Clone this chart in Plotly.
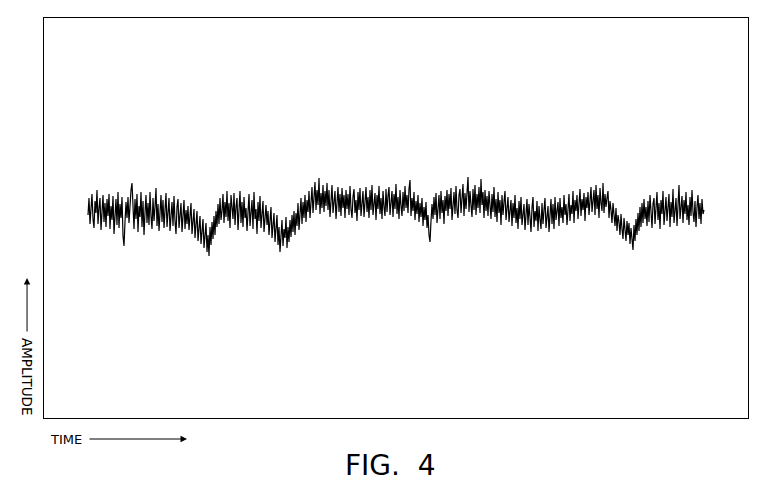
import plotly.graph_objects as go

# Amplitude samples (one sample per pixel column of the original drawing)
amplitude = [
    203, 220, 194, 213, 224, 199, 190, 217, 205, 228, 194, 210, 220, 188, 203, 223, 196, 215, 191, 219,
    202, 224, 189, 212, 198, 222, 184, 209, 219, 193, 226, 190, 214, 200, 221, 182, 172, 196, 216, 200,
    221, 195, 213, 228, 235, 206, 189, 219, 199, 224, 186, 212, 201, 226, 191, 217, 183, 205, 223, 195,
    215, 193, 226, 202, 189, 220, 197, 211, 230, 192, 214, 187, 206, 223, 196, 218, 190, 211, 225, 191,
    208, 220, 187, 203, 216, 192, 222, 197, 184, 211, 219, 190, 205, 215, 186, 201, 218, 189, 208, 194,
    212, 188, 202, 215, 184, 199, 209, 180, 195, 207, 177, 193, 202, 174, 189, 199, 170, 186, 195, 166,
    183, 162, 191, 173, 196, 179, 202, 183, 207, 191, 214, 194, 220, 198, 207, 224, 195, 216, 201, 227,
    197, 215, 190, 223, 205, 199, 225, 193, 211, 220, 188, 207, 227, 195, 216, 191, 221, 200, 210, 187,
    213, 224, 192, 205, 218, 189, 226, 199, 209, 184, 216, 197, 222, 190, 206, 217, 186, 202, 213, 193,
    207, 183, 199, 211, 180, 196, 205, 176, 193, 203, 173, 191, 166, 186, 198, 172, 189, 180, 201, 170,
    191, 176, 198, 181, 203, 186, 207, 183, 205, 192, 215, 188, 210, 220, 194, 216, 200, 223, 196, 218,
    206, 227, 200, 219, 231, 205, 222, 236, 208, 228, 213, 240, 204, 225, 210, 233, 206, 227, 212, 235,
    208, 228, 201, 222, 233, 205, 214, 227, 199, 221, 231, 206, 224, 202, 230, 210, 223, 200, 228, 209,
    224, 203, 232, 209, 200, 221, 229, 205, 218, 197, 226, 208, 230, 202, 219, 227, 201, 215, 231, 206,
    221, 200, 228, 208, 233, 203, 218, 225, 198, 223, 209, 232, 204, 220, 199, 227, 211, 202, 229, 206,
    222, 231, 203, 217, 227, 201, 224, 209, 234, 204, 221, 199, 228, 212, 202, 226, 207, 232, 210, 223,
    205, 229, 238, 202, 220, 207, 226, 198, 217, 204, 223, 196, 215, 201, 220, 192, 211, 198, 216, 190,
    203, 183, 176, 197, 214, 199, 221, 203, 225, 195, 216, 223, 199, 227, 205, 218, 194, 222, 207, 228,
    202, 224, 209, 230, 198, 220, 226, 204, 232, 208, 200, 223, 229, 205, 218, 234, 202, 225, 209, 231,
    241, 206, 227, 213, 201, 229, 208, 233, 203, 224, 210, 231, 205, 239, 213, 226, 200, 228, 207, 222,
    202, 227, 210, 199, 224, 206, 231, 201, 219, 196, 226, 205, 218, 193, 223, 203, 216, 227, 198, 214,
    221, 196, 211, 218, 192, 215, 200, 223, 195, 210, 189, 217, 199, 221, 193, 207, 214, 188, 204, 219,
    193, 214, 201, 186, 210, 221, 191, 207, 197, 217, 187, 212, 199, 189, 215, 194, 208, 220, 190, 203,
    212, 186, 206, 219, 194, 214, 189, 221, 198, 209, 216, 192, 220, 200, 211, 195, 223, 203, 214, 193,
    217, 224, 197, 213, 204, 227, 195, 218, 207, 223, 199, 214, 229, 202, 219, 208, 225, 197, 221, 210,
    226, 203, 221, 231, 206, 216, 228, 203, 233, 209, 223, 200, 230, 215, 207, 235, 205, 224, 211, 220,
    227, 200, 217, 208, 195, 215, 199, 192, 210, 187, 203, 196, 183, 204, 189, 179, 200, 186, 177, 197,
    183, 195, 174, 190, 180, 168, 193, 177, 199, 183, 205, 187, 211, 191, 215, 195, 219, 199, 211, 192,
    217, 196, 223, 203, 190, 214, 220, 194, 210, 226, 198, 215, 189, 218, 204, 227, 193, 212, 221, 197,
    208, 224, 191, 216, 201, 229, 195, 211, 220, 192, 214, 233, 199, 210, 222, 195, 218, 204, 226, 198,
    213, 193, 221, 202, 228, 206, 196, 217, 191, 211, 223, 199, 215, 194, 219, 204, 208,
]
time = list(range(len(amplitude)))

fig = go.Figure()
fig.add_trace(go.Scatter(x=time, y=amplitude, mode="lines",
                         line=dict(color="black", width=1.2), hoverinfo="skip"))

axis_common = dict(showgrid=False, zeroline=False, showticklabels=False, ticks="",
                   showline=True, linecolor="black", linewidth=1, mirror=True)
fig.update_xaxes(range=[-44, 660], **axis_common)
fig.update_yaxes(range=[0, 400], **axis_common)

font = "DejaVu Sans, Liberation Sans, sans-serif"
fig.update_layout(
    width=768, height=491,
    margin=dict(l=36, r=28, t=10, b=81, pad=0, autoexpand=False),
    paper_bgcolor="white", plot_bgcolor="white",
    showlegend=False,
    annotations=[
        dict(text="TIME", xref="paper", yref="paper", x=0.0568, y=-0.0525,
             xanchor="right", yanchor="middle", showarrow=False,
             font=dict(family=font, size=13, color="black")),
        dict(text="", xref="paper", yref="paper", x=0.2031, y=-0.0525,
             ax=-99, ay=0, showarrow=True, arrowhead=2, arrowsize=1.3,
             arrowwidth=1, arrowcolor="black"),
        dict(text="AMPLITUDE", xref="paper", yref="paper", x=-0.0241, y=0.1025,
             xanchor="center", yanchor="middle", textangle=90, showarrow=False,
             font=dict(family=font, size=13.5, color="black")),
        dict(text="", xref="paper", yref="paper", x=-0.0241, y=0.35,
             ax=0, ay=55, showarrow=True, arrowhead=2, arrowsize=1.3,
             arrowwidth=1, arrowcolor="black"),
        dict(text="FIG.  4", xref="paper", yref="paper", x=0.4915, y=-0.1175,
             xanchor="center", yanchor="middle", showarrow=False,
             font=dict(family=font, size=28, color="black")),
    ],
)
fig.write_html("out.html")
